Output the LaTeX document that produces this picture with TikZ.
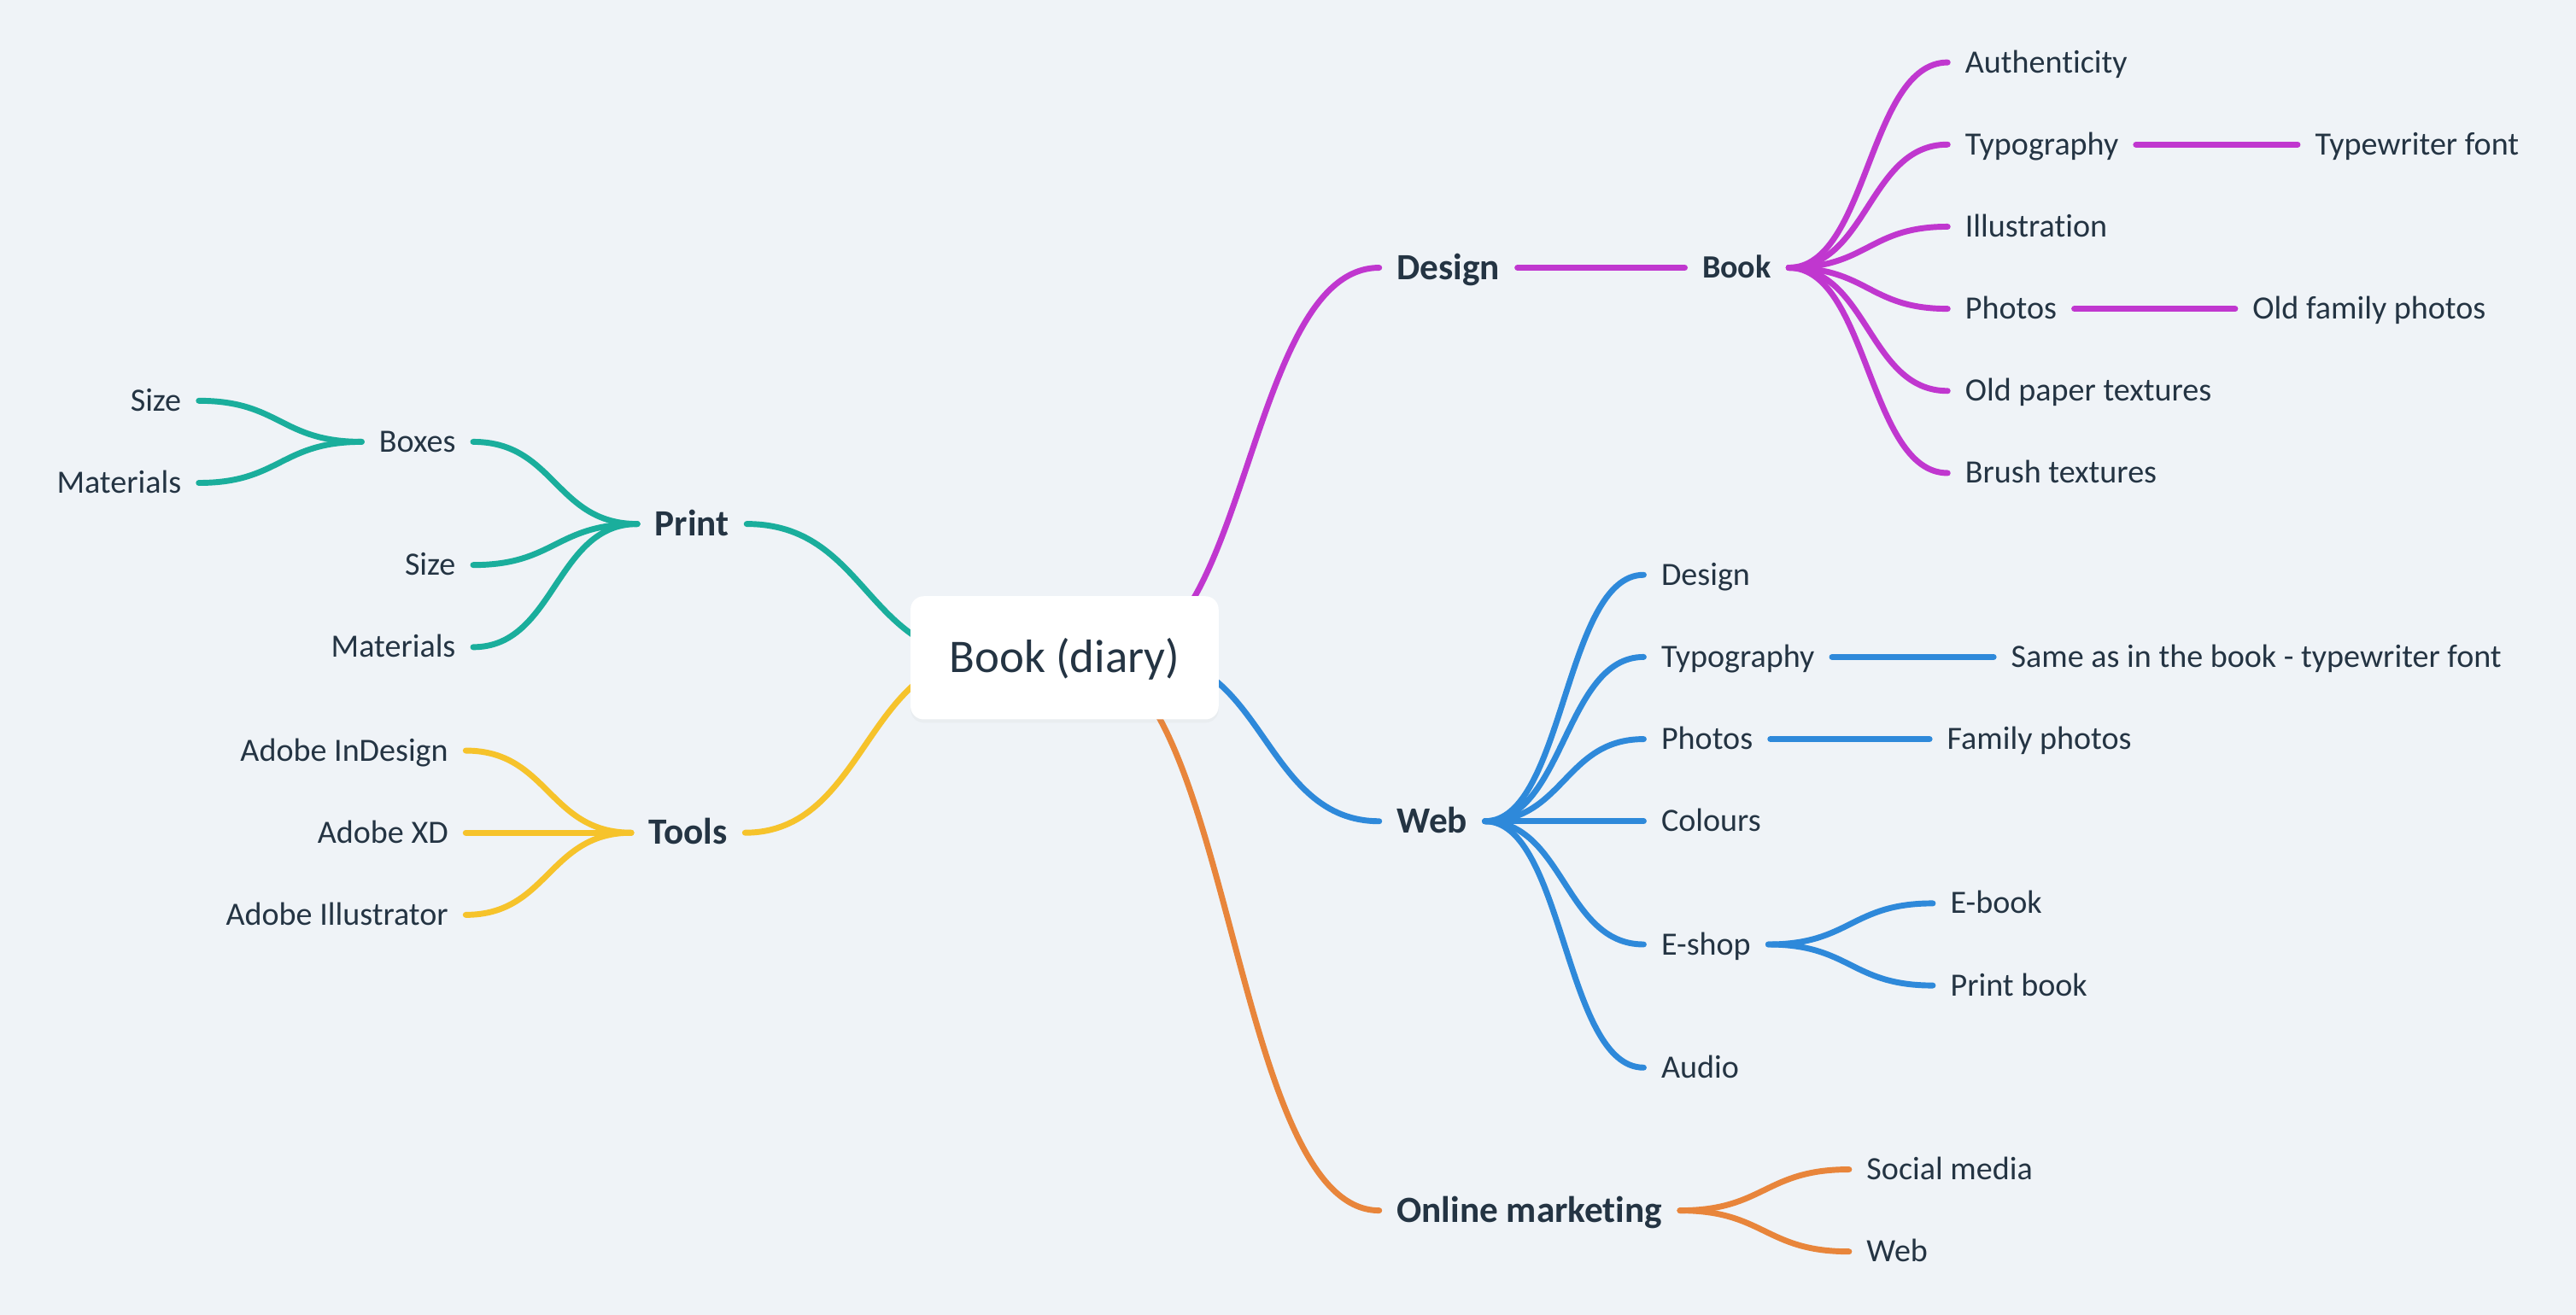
\documentclass[tikz,border=0pt]{standalone}
\usepackage{fontspec}
\setmainfont{Carlito}[Ligatures=NoCommon]
\usetikzlibrary{calc,shadows}
\definecolor{bg}{HTML}{EFF3F7}
\definecolor{ink}{HTML}{243443}
\definecolor{cmag}{HTML}{C037CF}
\definecolor{cteal}{HTML}{1AAE9C}
\definecolor{cyel}{HTML}{F6C32B}
\definecolor{cblue}{HTML}{2E89DA}
\definecolor{corg}{HTML}{E8853B}
\begin{document}
\begin{tikzpicture}[x=1pt,y=-1pt,
  lbl/.style={inner xsep=10.5pt, inner ysep=0pt, text height=12.5pt, text depth=0pt, text=ink, font=\fontsize{19.8}{22}\selectfont},
  lblb/.style={lbl, font=\fontsize{19.8}{22}\selectfont\bfseries},
  lbl1/.style={lbl, text height=14.2pt, font=\fontsize{22.5}{26}\selectfont\bfseries},
  hc/.style={to path={let \p1=(\tikztostart), \p2=(\tikztotarget) in .. controls ({(\x1+\x2)/2},\y1) and ({(\x1+\x2)/2},\y2) .. (\p2) \tikztonodes}},
  conn/.style={line width=3.6pt, line cap=round, hc},
  rootbox/.style={fill=white, rounded corners=8pt, minimum width=187.5pt, minimum height=75pt, inner sep=0pt, text height=18pt, text depth=0pt, text=ink, font=\fontsize{28.5}{32}\selectfont, drop shadow={opacity=0.05, shadow xshift=0pt, shadow yshift=-2pt}}
]
\fill[bg] (0,0) rectangle (1568,800.6);
\useasboundingbox (0,0) rectangle (1568,800.6);

% anchor points inside the central box
\coordinate (rD) at (680,400);
\coordinate (rW) at (700,400);
\coordinate (rO) at (660,400);
\coordinate (rP) at (600,400);
\coordinate (rT) at (600,400);

% ---------- Design branch ----------
\node[lbl1,anchor=west] (design) at (839.5,163) {Design};
\node[lblb,anchor=west] (book) at (1025.5,163) {Book};
\node[lbl,anchor=west] (auth) at (1185.5,38) {Authenticity};
\node[lbl,anchor=west] (dtypo) at (1185.5,88) {Typography};
\node[lbl,anchor=west] (illu) at (1185.5,138) {Illustration};
\node[lbl,anchor=west] (dphotos) at (1185.5,188) {Photos};
\node[lbl,anchor=west] (paper) at (1185.5,238) {Old paper textures};
\node[lbl,anchor=west] (brush) at (1185.5,288) {Brush textures};
\node[lbl,anchor=west] (twfont) at (1398.5,88) {Typewriter font};
\node[lbl,anchor=west] (oldfam) at (1360.5,188) {Old family photos};

% ---------- Web branch ----------
\node[lbl1,anchor=west] (web) at (839.5,500) {Web};
\node[lbl,anchor=west] (wdesign) at (1000.5,350) {Design};
\node[lbl,anchor=west] (wtypo) at (1000.5,400) {Typography};
\node[lbl,anchor=west] (wphotos) at (1000.5,450) {Photos};
\node[lbl,anchor=west] (colours) at (1000.5,500) {Colours};
\node[lbl,anchor=west] (eshop) at (1000.5,575) {E-shop};
\node[lbl,anchor=west] (audio) at (1000.5,650) {Audio};
\node[lbl,anchor=west] (same) at (1213.5,400) {Same as in the book - typewriter font};
\node[lbl,anchor=west] (family) at (1174.5,450) {Family photos};
\node[lbl,anchor=west] (ebook) at (1176.5,550) {E-book};
\node[lbl,anchor=west] (pbook) at (1176.5,600) {Print book};

% ---------- Online marketing ----------
\node[lbl1,anchor=west] (online) at (839.5,737) {Online marketing};
\node[lbl,anchor=west] (social) at (1125.5,712) {Social media};
\node[lbl,anchor=west] (oweb) at (1125.5,762) {Web};

% ---------- Print branch ----------
\node[lbl1,anchor=east] (print) at (454.5,319) {Print};
\node[lbl,anchor=east] (boxes) at (288,269) {Boxes};
\node[lbl,anchor=east] (psize) at (288,344) {Size\ };
\node[lbl,anchor=east] (pmat) at (288,394) {Materials};
\node[lbl,anchor=east] (bsize) at (121,244) {Size};
\node[lbl,anchor=east] (bmat) at (121,294) {Materials};

% ---------- Tools branch ----------
\node[lbl1,anchor=east] (tools) at (453.5,507) {Tools};
\node[lbl,anchor=east] (indesign) at (283.5,457) {Adobe InDesign};
\node[lbl,anchor=east] (xd) at (283.5,507) {Adobe XD};
\node[lbl,anchor=east] (illus) at (283.5,557) {Adobe Illustrator};

% ---------- connectors ----------
\begin{scope}[cmag]
\draw[conn] (rD) to (design.west);
\draw[conn] (design.east) to (book.west);
\foreach \c in {auth,dtypo,illu,dphotos,paper,brush} \draw[conn] (book.east) to (\c.west);
\draw[conn] (dtypo.east) to (twfont.west);
\draw[conn] (dphotos.east) to (oldfam.west);
\end{scope}

\begin{scope}[cblue]
\draw[conn] (rW) to (web.west);
\foreach \c in {wdesign,wtypo,wphotos,colours,eshop,audio} \draw[conn] (web.east) to (\c.west);
\draw[conn] (wtypo.east) to (same.west);
\draw[conn] (wphotos.east) to (family.west);
\draw[conn] (eshop.east) to (ebook.west);
\draw[conn] (eshop.east) to (pbook.west);
\end{scope}

\begin{scope}[corg]
\draw[conn] (rO) to (online.west);
\draw[conn] (online.east) to (social.west);
\draw[conn] (online.east) to (oweb.west);
\end{scope}

\begin{scope}[cteal]
\draw[conn] (rP) to (print.east);
\foreach \c in {boxes,psize,pmat} \draw[conn] (print.west) to (\c.east);
\draw[conn] (boxes.west) to (bsize.east);
\draw[conn] (boxes.west) to (bmat.east);
\end{scope}

\begin{scope}[cyel]
\draw[conn] (rT) to (tools.east);
\foreach \c in {indesign,xd,illus} \draw[conn] (tools.west) to (\c.east);
\end{scope}

% ---------- central node ----------
\node[rootbox] (root) at (648,400.5) {Book (diary)};
\end{tikzpicture}
\end{document}
